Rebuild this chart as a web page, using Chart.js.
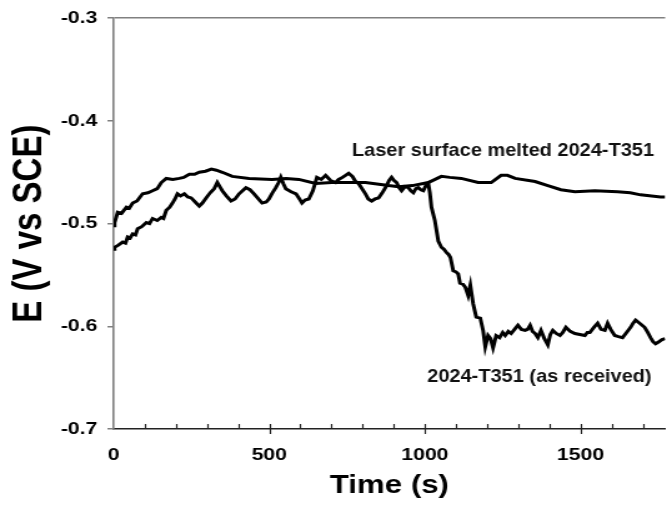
<!DOCTYPE html>
<html>
<head>
<meta charset="utf-8">
<script src="https://cdn.jsdelivr.net/npm/chart.js@4/dist/chart.umd.min.js"></script>
<style>
  html, body { margin: 0; padding: 0; background: #fff; overflow: hidden; }
  /* the figure is drawn narrow and widened, like the original export */
  #wrap { width: 534px; height: 508px; transform: scaleX(1.2491); transform-origin: 0 0; }
</style>
</head>
<body>
<div id="wrap"><canvas id="ocp"></canvas></div>
<script>
// open circuit potential vs time
var timeLaser = [0, 3, 13, 25, 41, 50, 61, 75, 93, 110, 125, 140, 153, 169, 190, 211, 225, 243, 260, 275,
  295, 314, 330, 349, 381, 435, 509, 554, 595, 649, 701, 809, 883, 915, 960, 1011, 1053, 1080, 1117, 1171,
  1213, 1245, 1265, 1290, 1354, 1395, 1437, 1482, 1546, 1619, 1660, 1693, 1757, 1772];
var potLaser = [-0.502, -0.499, -0.489, -0.490, -0.484, -0.485, -0.480, -0.478, -0.471, -0.470, -0.468, -0.466,
  -0.460, -0.456, -0.457, -0.456, -0.455, -0.452, -0.452, -0.450, -0.449, -0.447, -0.448, -0.450, -0.454,
  -0.456, -0.457, -0.456, -0.457, -0.461, -0.460, -0.460, -0.463, -0.464, -0.463, -0.460, -0.454, -0.455,
  -0.456, -0.460, -0.460, -0.453, -0.453, -0.456, -0.459, -0.463, -0.467, -0.469, -0.468, -0.469, -0.470,
  -0.472, -0.474, -0.474];

var timeReceived = [0, 3, 15, 29, 38, 45, 53, 61, 70, 77, 90, 105, 115, 125, 140, 153, 160, 169, 180, 189,
  197, 205, 215, 227, 238, 249, 262, 275, 285, 297, 310, 323, 333, 341, 349, 362, 377, 390, 403, 414,
  425, 438, 451, 465, 477, 490, 499, 510, 521, 530, 537, 545, 553, 570, 586, 597, 605, 615, 627, 640,
  653, 667, 681, 697, 713, 723, 735, 745, 755, 767, 777, 787, 798, 809, 818, 829, 840, 851, 863, 877,
  885, 893, 901, 909, 917, 925, 936, 947, 955, 963, 971, 979, 987, 995, 1003, 1011, 1016, 1021, 1032, 1043,
  1053, 1061, 1069, 1076, 1082, 1091, 1100, 1107, 1113, 1122, 1130, 1139, 1146, 1150, 1155, 1165, 1178, 1187, 1194, 1203,
  1211, 1219, 1229, 1240, 1250, 1258, 1268, 1277, 1288, 1299, 1310, 1322, 1330, 1338, 1346, 1354, 1363, 1373, 1384, 1395,
  1403, 1411, 1422, 1434, 1443, 1453, 1467, 1482, 1498, 1514, 1522, 1530, 1543, 1555, 1566, 1578, 1587, 1597, 1610, 1622,
  1635, 1648, 1661, 1669, 1677, 1690, 1706, 1716, 1725, 1733, 1741, 1752, 1762, 1772];
var potReceived = [-0.525, -0.523, -0.521, -0.518, -0.519, -0.513, -0.514, -0.510, -0.511, -0.505, -0.503, -0.499,
  -0.500, -0.495, -0.497, -0.494, -0.495, -0.487, -0.484, -0.480, -0.476, -0.471, -0.473, -0.471, -0.474,
  -0.475, -0.479, -0.483, -0.480, -0.475, -0.470, -0.466, -0.460, -0.464, -0.468, -0.473, -0.478, -0.476,
  -0.471, -0.468, -0.465, -0.467, -0.471, -0.476, -0.480, -0.479, -0.476, -0.470, -0.465, -0.460, -0.455,
  -0.461, -0.466, -0.469, -0.471, -0.476, -0.480, -0.477, -0.476, -0.468, -0.455, -0.457, -0.453, -0.458,
  -0.460, -0.457, -0.455, -0.453, -0.451, -0.454, -0.459, -0.461, -0.466, -0.471, -0.476, -0.478, -0.476,
  -0.475, -0.470, -0.463, -0.458, -0.455, -0.458, -0.460, -0.465, -0.468, -0.464, -0.465, -0.468, -0.470,
  -0.466, -0.465, -0.467, -0.468, -0.463, -0.461, -0.470, -0.484, -0.497, -0.517, -0.523, -0.525, -0.528,
  -0.530, -0.533, -0.546, -0.547, -0.549, -0.558, -0.559, -0.562, -0.570, -0.560, -0.568, -0.578, -0.591,
  -0.592, -0.604, -0.620, -0.609, -0.612, -0.621, -0.609, -0.611, -0.606, -0.609, -0.605, -0.607, -0.603,
  -0.599, -0.603, -0.604, -0.603, -0.599, -0.605, -0.607, -0.611, -0.604, -0.612, -0.618, -0.608, -0.604,
  -0.607, -0.609, -0.606, -0.601, -0.605, -0.607, -0.608, -0.609, -0.606, -0.606, -0.601, -0.597, -0.603,
  -0.604, -0.597, -0.603, -0.609, -0.610, -0.611, -0.606, -0.601, -0.597, -0.594, -0.597, -0.601, -0.606,
  -0.611, -0.615, -0.617, -0.615, -0.613, -0.612];

var xTickLabels = [0, 500, 1000, 1500];
var yTickLabels = [-0.3, -0.4, -0.5, -0.6, -0.7];

var seriesLabels = ['Laser surface melted 2024-T351', '2024-T351 (as received)'];

function pairs(xs, ys) {
  return xs.map(function (x, i) { return { x: x, y: ys[i] }; });
}

var FONT = "'Liberation Sans', Arial, sans-serif";

// small inward ticks every 100 s, longer crossing ticks at the labelled values
var timeTicks = {
  id: 'timeTicks',
  afterDraw: function (chart) {
    var xs = chart.scales.x, ctx = chart.ctx, y0 = xs.top;
    ctx.save();
    ctx.strokeStyle = '#222';
    ctx.lineWidth = 1.2;
    for (var t = 100; t < xs.max; t += 100) {
      var px = Math.round(xs.getPixelForValue(t)) + 0.5;
      var major = xTickLabels.indexOf(t) >= 0;
      ctx.beginPath();
      ctx.moveTo(px, y0 - 5);
      ctx.lineTo(px, major ? y0 + 5 : y0);
      ctx.stroke();
    }
    ctx.restore();
  }
};

// curve names written next to each trace (narrowed type: squeezed sideways, pulled up)
var curveNotes = {
  id: 'curveNotes',
  afterDatasetsDraw: function (chart) {
    var xs = chart.scales.x, ys = chart.scales.y, ctx = chart.ctx;
    var spots = [[1251, -0.429], [1368, -0.649]];
    ctx.save();
    ctx.fillStyle = '#111';
    ctx.font = 'bold 16px ' + FONT;
    ctx.textAlign = 'center';
    ctx.textBaseline = 'middle';
    seriesLabels.forEach(function (txt, i) {
      var px = xs.getPixelForValue(spots[i][0]);
      var py = ys.getPixelForValue(spots[i][1]);
      ctx.save();
      ctx.translate(px, py);
      ctx.scale(1, 1.16);
      ctx.fillText(txt, 0, 0);
      ctx.restore();
    });
    ctx.restore();
  }
};

var line = { borderColor: '#000', borderWidth: 3, pointRadius: 0, tension: 0, fill: false };

new Chart(document.getElementById('ocp'), {
  type: 'line',
  data: {
    datasets: [
      Object.assign({ label: seriesLabels[0], data: pairs(timeLaser, potLaser) }, line),
      Object.assign({ label: seriesLabels[1], data: pairs(timeReceived, potReceived) }, line)
    ]
  },
  options: {
    responsive: true,
    maintainAspectRatio: false,
    animation: false,
    layout: { padding: { top: 17, right: 0, bottom: 0, left: 0 } },
    plugins: { legend: { display: false }, tooltip: { enabled: false } },
    scales: {
      x: {
        type: 'linear',
        min: 0,
        max: 1772,
        afterBuildTicks: function (scale) {
          scale.ticks = xTickLabels.map(function (v) { return { value: v }; });
        },
        afterFit: function (scale) { scale.height = 79; },
        grid: { display: false, drawTicks: false },
        border: { display: true, color: '#222', width: 1.5 },
        ticks: {
          padding: 16,
          color: '#000',
          font: { family: FONT, size: 17, weight: 'bold' },
          maxRotation: 0,
          callback: function (v) { return String(v); }
        },
        title: {
          display: true,
          text: 'Time (s)',
          color: '#000',
          font: { family: FONT, size: 25, weight: 'bold' },
          padding: { top: 0, bottom: 7 }
        }
      },
      y: {
        min: -0.7,
        max: -0.3,
        afterBuildTicks: function (scale) {
          scale.ticks = yTickLabels.map(function (v) { return { value: v }; });
        },
        afterFit: function (scale) { scale.width = 91; },
        grid: {
          drawOnChartArea: true,
          drawTicks: true,
          tickLength: 5,
          tickColor: '#808080',
          lineWidth: 1.5,
          color: function (c) {
            return c.tick && c.tick.value === -0.3 ? '#808080' : 'rgba(0,0,0,0)';
          }
        },
        border: { display: true, color: '#808080', width: 1.6 },
        ticks: {
          padding: 8,
          color: '#000',
          font: { family: FONT, size: 17, weight: 'bold' },
          callback: function (v) { return v.toFixed(1); }
        },
        title: {
          display: true,
          text: 'E (V vs SCE)',
          color: '#000',
          font: { family: FONT, size: 33, weight: 'bold' },
          padding: { top: 4, bottom: 0 }
        }
      }
    }
  },
  plugins: [timeTicks, curveNotes]
});
</script>
</body>
</html>
